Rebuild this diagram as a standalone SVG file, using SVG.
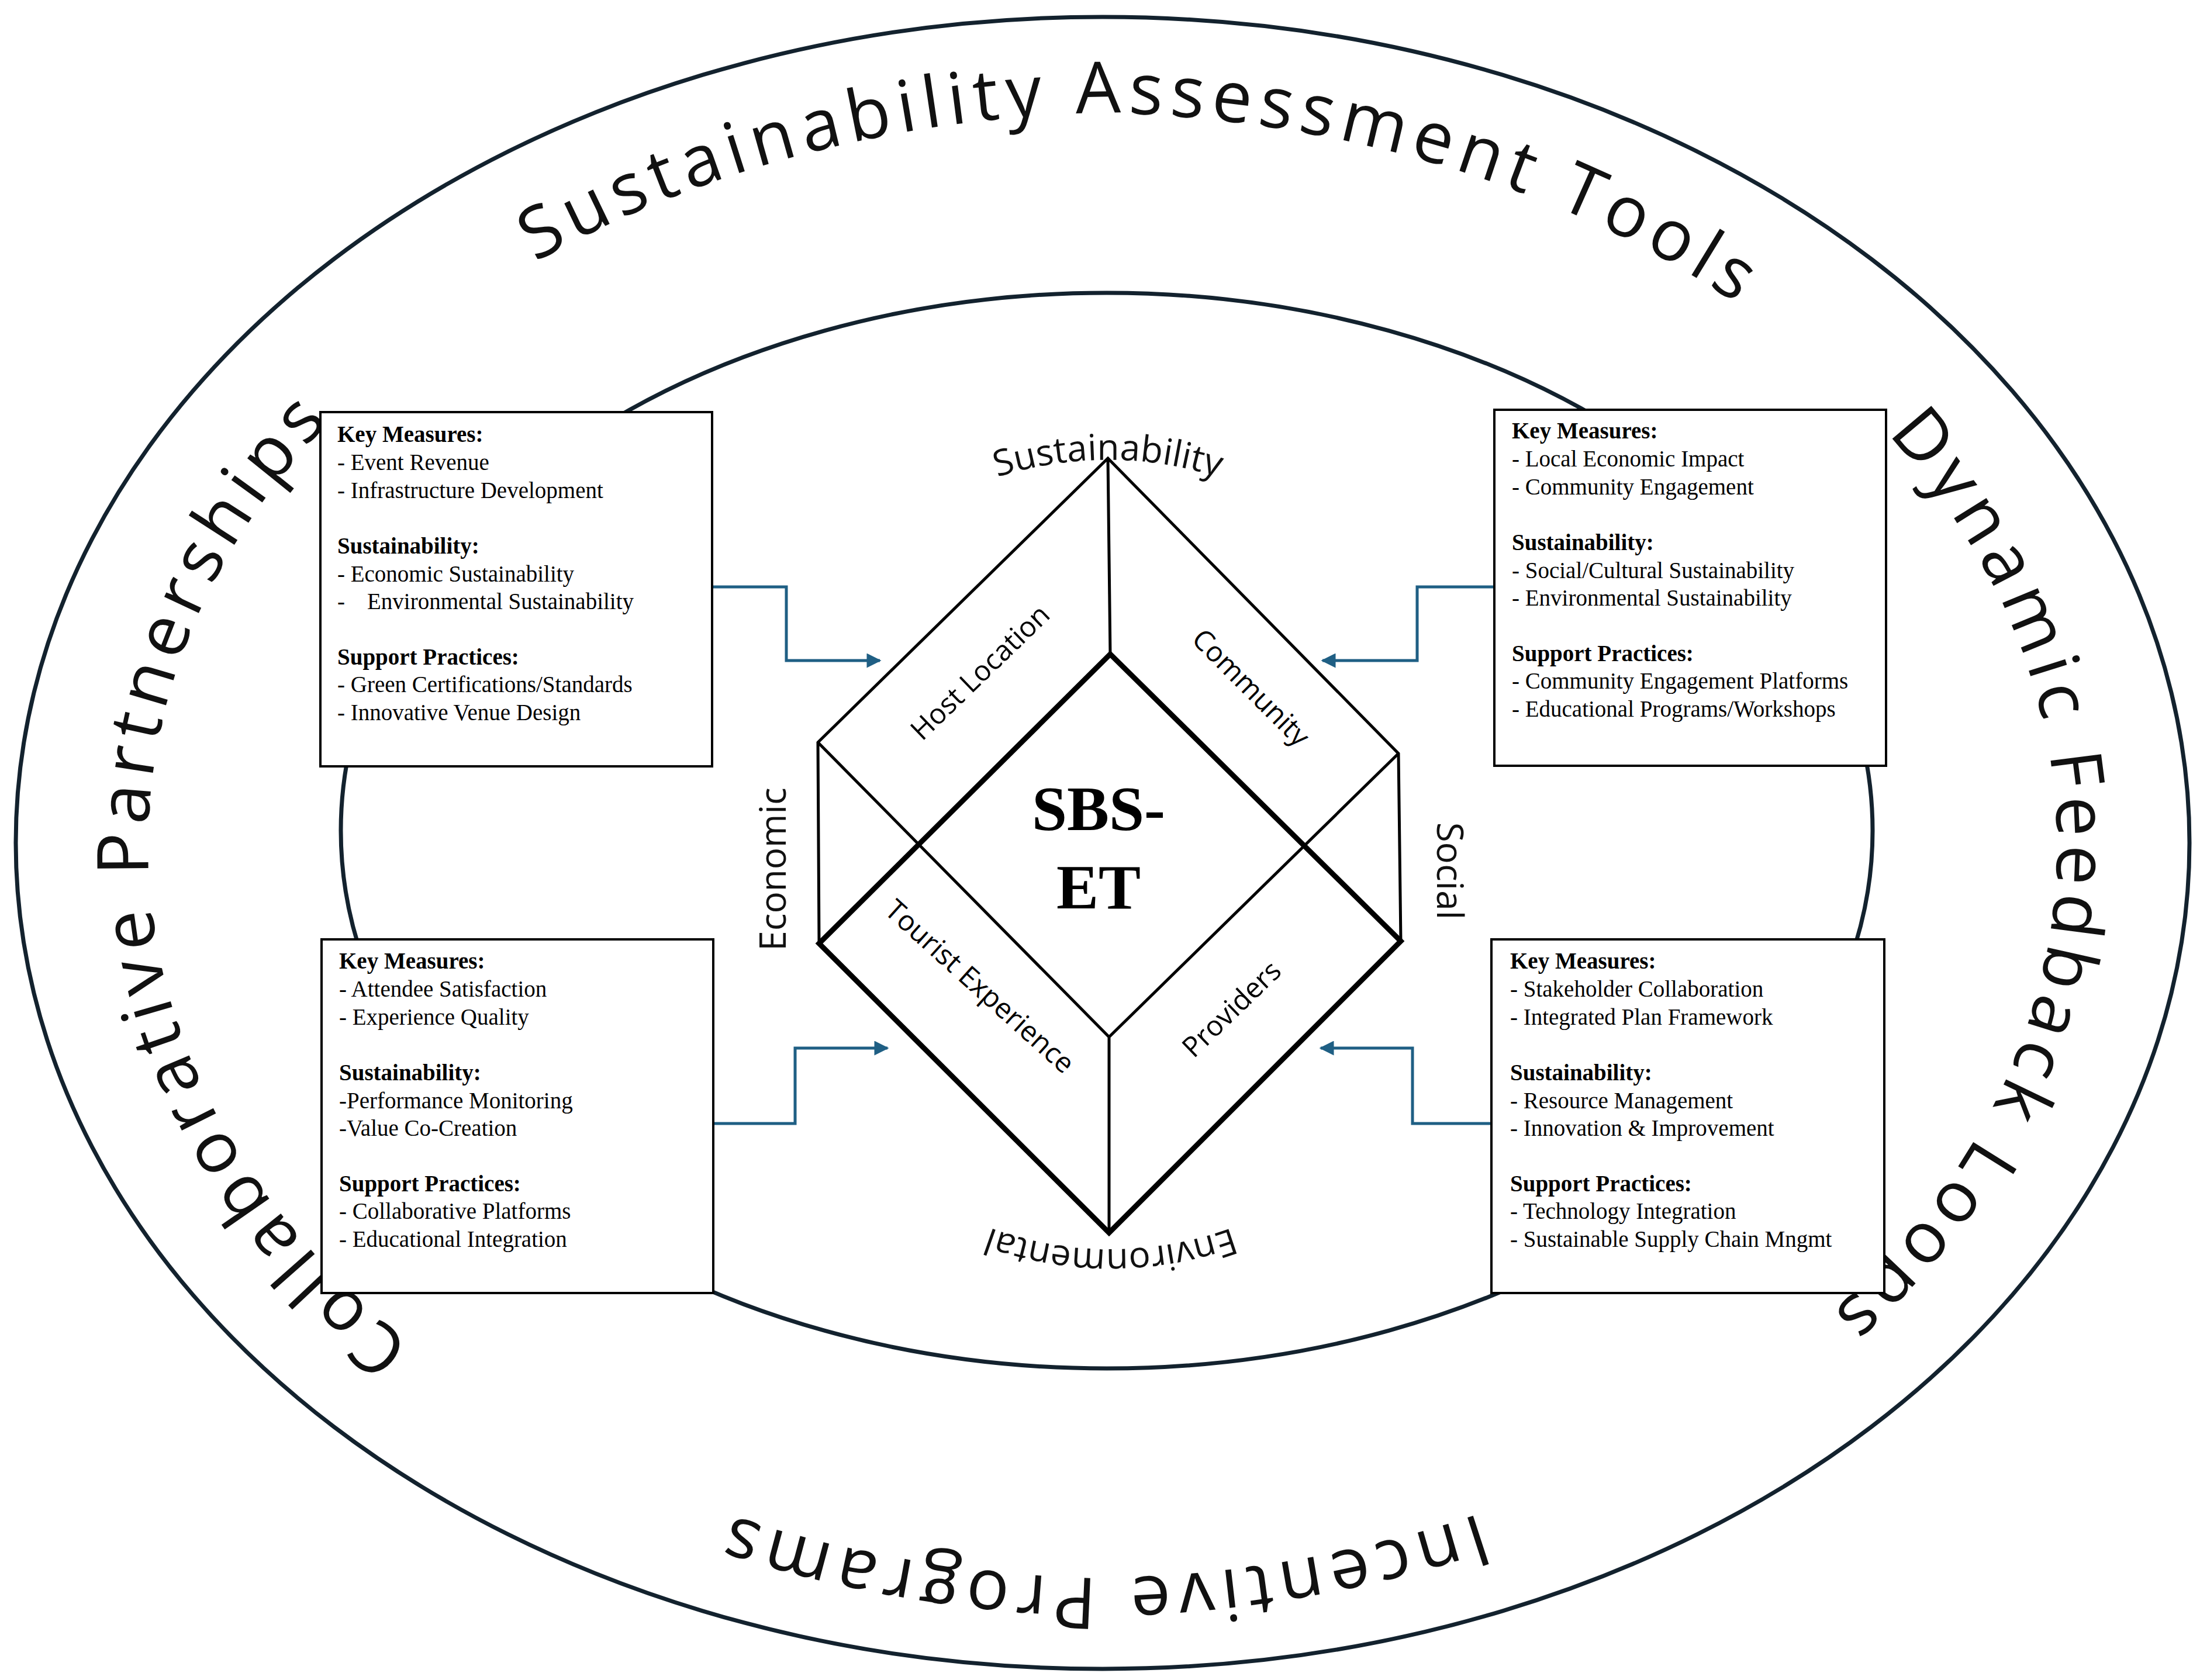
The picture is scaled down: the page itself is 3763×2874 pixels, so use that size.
<svg xmlns="http://www.w3.org/2000/svg" width="3763" height="2874" viewBox="0 0 3763 2874">
<style>
.ell{fill:none;stroke:#13222e;stroke-width:7}
.box{fill:#fff;stroke:#000;stroke-width:4}
.bt{font-family:"Liberation Serif",serif;font-size:39px;fill:#000}
.bt .h{font-weight:bold}
.arc{font-family:"Open Sans","DejaVu Sans",sans-serif;font-size:122px;fill:#111;letter-spacing:12px}
.lab{font-family:"Open Sans","DejaVu Sans",sans-serif;font-size:48px;fill:#000}
.dim{font-family:"Open Sans","DejaVu Sans",sans-serif;font-size:62px;fill:#111}
.thin{stroke:#000;stroke-width:5;fill:none;stroke-linecap:round}
.thick{stroke:#000;stroke-width:9;fill:none;stroke-linecap:round}
.con{stroke:#1f5f84;stroke-width:5;fill:none}
</style>
<defs>
<marker id="ah" viewBox="0 0 10 10" refX="9" refY="5" markerWidth="6" markerHeight="5" orient="auto" markerUnits="strokeWidth"><path d="M0,0 L10,5 L0,10 z" fill="#1f5f84"/></marker>
<path id="pA" d="M1886,2700 A1680,1254 0 0 1 1886,193 A1680,1254 0 0 1 1886,2700"/>
<path id="pB" d="M1886,193 A1680,1254 0 0 1 1886,2700 A1680,1254 0 0 1 1886,193"/>
<path id="pS" d="M1545,895 A620,620 0 0 1 2245,895"/>
<path id="pE" d="M2260,2017 A600,600 0 0 1 1540,2017"/>
</defs>
<rect width="3763" height="2874" fill="#fff"/>
<g id="ellipses">
<ellipse class="ell" cx="1886" cy="1442" rx="1859" ry="1413"/>
<ellipse class="ell" cx="1893" cy="1421" rx="1310" ry="920"/>
</g>
<g id="ring-labels" class="arc">
<text><textPath href="#pA" startOffset="24%" text-anchor="middle">Collaborative Partnerships</textPath></text>
<text><textPath href="#pA" startOffset="50.8%" text-anchor="middle">Sustainability Assessment Tools</textPath></text>
<text><textPath href="#pA" startOffset="75.8%" text-anchor="middle">Dynamic Feedback Loops</textPath></text>
<text><textPath href="#pB" startOffset="50%" text-anchor="middle">Incentive Programs</textPath></text>
</g>
<g id="cube">
<path class="thin" d="M1399,1270 L1895,784 L2392,1289 M1399,1270 L1401,1614 M2392,1289 L2396,1610 M1895,784 L1899,1119 M1399,1270 L1897,1774 L2392,1289 M1897,1774 L1897,2109"/>
<path class="thick" d="M1401,1614 L1899,1119 L2396,1610 L1897,2109 Z"/>
<text x="1879" y="1420" text-anchor="middle" font-family="Liberation Serif,serif" font-weight="bold" font-size="108">SBS-</text>
<text x="1879" y="1554" text-anchor="middle" font-family="Liberation Serif,serif" font-weight="bold" font-size="108">ET</text>
<text class="lab" transform="translate(1688,1162) rotate(-44)" text-anchor="middle">Host Location</text>
<text class="lab" transform="translate(2128,1188) rotate(45)" text-anchor="middle">Community</text>
<text class="lab" transform="translate(1665,1700) rotate(42)" text-anchor="middle">Tourist Experience</text>
<text class="lab" transform="translate(2118,1738) rotate(-44)" text-anchor="middle">Providers</text>
<text class="dim"><textPath href="#pS" startOffset="50%" text-anchor="middle">Sustainability</textPath></text>
<text class="dim"><textPath href="#pE" startOffset="50%" text-anchor="middle">Environmental</textPath></text>
<text class="dim" transform="translate(1344,1487) rotate(-90)" text-anchor="middle">Economic</text>
<text class="dim" transform="translate(2458,1490) rotate(90)" text-anchor="middle">Social</text>
</g>
<g id="connectors">
<path class="con" marker-end="url(#ah)" d="M1216,1004 H1345 V1130 H1505"/>
<path class="con" marker-end="url(#ah)" d="M2556,1004 H2424 V1130 H2262"/>
<path class="con" marker-end="url(#ah)" d="M1220,1922 H1360 V1793 H1518"/>
<path class="con" marker-end="url(#ah)" d="M2551,1922 H2416 V1793 H2259"/>
</g>
<g id="box-tl">
<rect class="box" x="548" y="705" width="670" height="606"/>
<text class="bt" x="577"><tspan class="h" y="756">Key Measures:</tspan><tspan x="577" y="804">- Event Revenue</tspan><tspan x="577" y="852">- Infrastructure Development</tspan><tspan class="h" x="577" y="947">Sustainability:</tspan><tspan x="577" y="995">- Economic Sustainability</tspan><tspan x="577" y="1042">-</tspan><tspan dx="38">Environmental Sustainability</tspan><tspan class="h" x="577" y="1137">Support Practices:</tspan><tspan x="577" y="1184">- Green Certifications/Standards</tspan><tspan x="577" y="1232">- Innovative  Venue Design</tspan></text>
</g>
<g id="box-tr">
<rect class="box" x="2556" y="701" width="670" height="609"/>
<text class="bt" x="2586"><tspan class="h" y="750">Key Measures:</tspan><tspan x="2586" y="798">- Local Economic Impact</tspan><tspan x="2586" y="846">- Community Engagement</tspan><tspan class="h" x="2586" y="941">Sustainability:</tspan><tspan x="2586" y="989">- Social/Cultural Sustainability</tspan><tspan x="2586" y="1036">- Environmental Sustainability</tspan><tspan class="h" x="2586" y="1131">Support Practices:</tspan><tspan x="2586" y="1178">- Community Engagement Platforms</tspan><tspan x="2586" y="1226">- Educational Programs/Workshops</tspan></text>
</g>
<g id="box-bl">
<rect class="box" x="550" y="1607" width="670" height="605"/>
<text class="bt" x="580"><tspan class="h" y="1657">Key Measures:</tspan><tspan x="580" y="1705">- Attendee Satisfaction</tspan><tspan x="580" y="1753">- Experience Quality</tspan><tspan class="h" x="580" y="1848">Sustainability:</tspan><tspan x="580" y="1896">-Performance Monitoring</tspan><tspan x="580" y="1943">-Value Co-Creation</tspan><tspan class="h" x="580" y="2038">Support Practices:</tspan><tspan x="580" y="2085">- Collaborative Platforms</tspan><tspan x="580" y="2133">- Educational Integration</tspan></text>
</g>
<g id="box-br">
<rect class="box" x="2551" y="1607" width="672" height="605"/>
<text class="bt" x="2583"><tspan class="h" y="1657">Key Measures:</tspan><tspan x="2583" y="1705">- Stakeholder Collaboration</tspan><tspan x="2583" y="1753">- Integrated Plan Framework</tspan><tspan class="h" x="2583" y="1848">Sustainability:</tspan><tspan x="2583" y="1896">- Resource Management</tspan><tspan x="2583" y="1943">- Innovation &amp; Improvement</tspan><tspan class="h" x="2583" y="2038">Support Practices:</tspan><tspan x="2583" y="2085">- Technology Integration</tspan><tspan x="2583" y="2133">- Sustainable Supply Chain Mngmt</tspan></text>
</g>
</svg>
